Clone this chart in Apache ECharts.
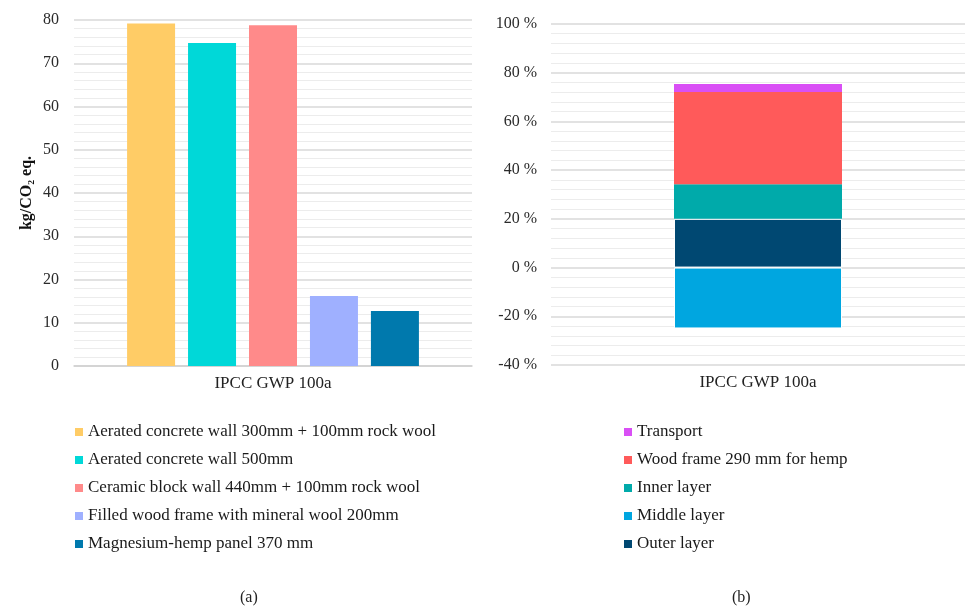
<!DOCTYPE html>
<html>
<head>
<meta charset="utf-8">
<script src="https://cdn.jsdelivr.net/npm/echarts@6/dist/echarts.min.js"></script>
<style>html,body{margin:0;padding:0;background:#fff}#c{width:966px;height:607px}</style>
</head>
<body>
<div id="c"></div>
<script>
const categories = ['IPCC GWP 100a'];
const leftNames = ['Aerated concrete wall 300mm + 100mm rock wool','Aerated concrete wall 500mm','Ceramic block wall 440mm + 100mm rock wool','Filled wood frame with mineral wool 200mm','Magnesium-hemp panel 370 mm'];
const leftValues = [79.2, 74.7, 78.8, 16.2, 12.7];
const leftColors = ['#ffcc66','#00d8d8','#ff8a8a','#9fb0ff','#0079ad'];

const rightLegend = ['Transport','Wood frame 290 mm for hemp','Inner layer','Middle layer','Outer layer'];
const stackOrder = ['Outer layer','Inner layer','Wood frame 290 mm for hemp','Transport','Middle layer'];
const stackValues = [20.0, 14.2, 37.9, 3.3, -25.0];
const stackColors = ['#004872','#00aaaa','#ff5a5a','#d94ff5','#00a6e0'];

const FONT = 'Liberation Serif, Times New Roman, serif';
const chart = echarts.init(document.getElementById('c'));

const series = [];
leftNames.forEach((n,i)=>{
  series.push({name:n,type:'bar',xAxisIndex:0,yAxisIndex:0,data:[leftValues[i]],barWidth:48,barGap:'27%',
    itemStyle:{color:leftColors[i]},silent:true});
});
stackOrder.forEach((n,i)=>{
  const bordered = (n==='Outer layer'||n==='Middle layer');
  series.push({name:n,type:'bar',xAxisIndex:1,yAxisIndex:1,stack:'s',data:[stackValues[i]],barWidth:168,
    itemStyle:{color:stackColors[i],borderColor:'#fff',borderWidth:bordered?1:0},silent:true});
});

const legendCommon = {orient:'vertical',icon:'rect',itemWidth:8,itemHeight:8,itemGap:10,
  itemStyle:{borderWidth:0},
  textStyle:{fontSize:17,fontFamily:FONT,color:'#1a1a1a',lineHeight:18},selectedMode:false};

chart.setOption({
  animation:false,
  textStyle:{fontFamily:FONT},
  grid:[{left:74,right:494,top:20,bottom:241},{left:551,right:1,top:24,bottom:242}],
  xAxis:[
    {type:'category',gridIndex:0,data:categories,axisTick:{show:false},
      axisLine:{lineStyle:{color:'#cfcfcf',width:1.5}},
      axisLabel:{fontSize:17,fontFamily:FONT,color:'#222',margin:9}},
    {type:'category',gridIndex:1,data:categories,axisTick:{show:false},
      axisLine:{show:false},
      axisLabel:{fontSize:17,fontFamily:FONT,color:'#222',margin:9}}
  ],
  yAxis:[
    {type:'value',gridIndex:0,min:0,max:80,interval:10,
      name:'kg/CO\u2082 eq.',nameLocation:'middle',nameGap:39,nameRotate:90,
      nameTextStyle:{fontSize:16,fontWeight:'bold',fontFamily:FONT,color:'#111'},
      axisLabel:{fontSize:16,fontFamily:FONT,color:'#2a2a2a',margin:15},
      splitLine:{lineStyle:{color:'#d9d9d9',width:1.5}},
      minorTick:{show:false,splitNumber:5},
      minorSplitLine:{show:true,lineStyle:{color:'#ececec',width:1}}},
    {type:'value',gridIndex:1,min:-40,max:100,interval:20,
      axisLabel:{fontSize:16,fontFamily:FONT,color:'#2a2a2a',margin:14,formatter:'{value} %'},
      splitLine:{lineStyle:{color:'#d9d9d9',width:1.5}},
      minorTick:{show:false,splitNumber:5},
      minorSplitLine:{show:true,lineStyle:{color:'#ececec',width:1}}}
  ],
  legend:[
    Object.assign({left:70,top:418,data:leftNames},legendCommon),
    Object.assign({left:619,top:418,data:rightLegend},legendCommon)
  ],
  graphic:[
    {type:'text',left:240,top:590,style:{text:'(a)',fontSize:16,fontFamily:FONT,fill:'#222'}},
    {type:'text',left:732,top:590,style:{text:'(b)',fontSize:16,fontFamily:FONT,fill:'#222'}}
  ],
  series:series
});
</script>
</body>
</html>
